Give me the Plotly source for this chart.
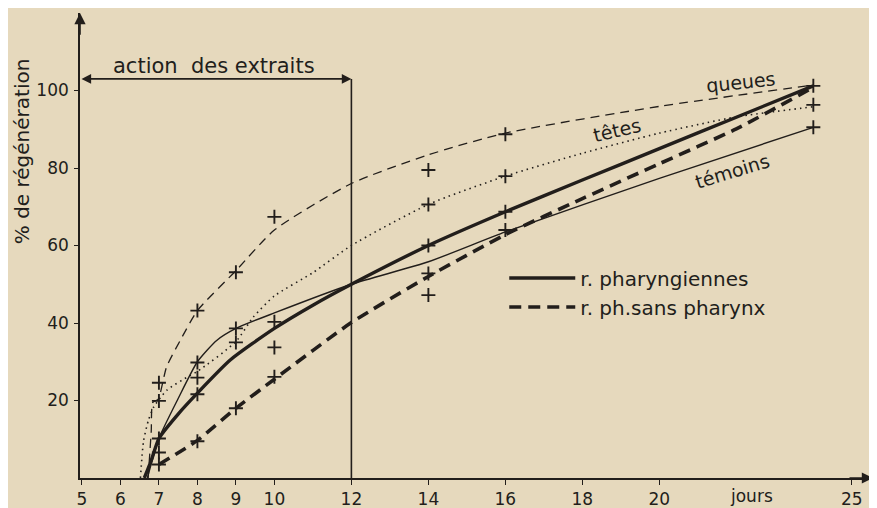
import plotly.graph_objects as go

# ---------------- data ----------------
queues_days = [6.72, 6.8, 6.84, 6.98, 7.2, 7.56, 8, 9, 10, 12, 14, 16, 20, 24]
queues_vals = [0, 12, 19.5, 20.3, 28.7, 35.6, 43.2, 53.5, 64, 76, 83.4, 89, 95.9, 101.4]

tetes_days = [6.52, 6.6, 6.73, 6.87, 7.21, 7.73, 8, 9, 9.45, 10, 11, 12, 14, 16, 18, 20, 22, 24]
tetes_vals = [0, 9.5, 15, 18.4, 22.7, 26, 27.5, 35.2, 41.5, 47, 53, 60, 70.6, 77.9, 83.8, 89, 93.2, 95.8]

temoins_days = [6.7, 7, 7.5, 8, 8.5, 9, 10, 12, 14, 16, 20, 24]
temoins_vals = [0, 10.2, 20.5, 30, 35.5, 38.6, 42.6, 50, 55.8, 63.5, 77.3, 90.5]

pharyng_days = [6.62, 6.8, 7, 7.5, 8, 8.86, 10, 11, 12, 14, 16, 18, 20, 22, 24]
pharyng_vals = [0, 4.5, 10.2, 16.5, 21.9, 30.5, 38.6, 44.6, 50, 60, 68.7, 76.9, 85.0, 93.1, 101.2]

sans_days = [7, 8, 9, 10, 12, 14, 16, 18, 20, 22, 24]
sans_vals = [3.5, 9.7, 18, 25.5, 40.1, 52, 62.8, 72.1, 81.1, 90.1, 100.8]

obs_days = [7, 7, 7, 7, 7, 8, 8, 8, 8, 8, 9, 9, 9, 9, 10, 10, 10, 10,
            14, 14, 14, 14, 14, 16, 16, 16, 16, 24, 24, 24]
obs_vals = [24.6, 19.9, 10.2, 6.6, 3.5, 43.2, 29.8, 25.9, 21.6, 9.5,
            53.1, 38.6, 35.0, 18.0, 67.4, 40.3, 33.7, 26.1,
            79.5, 70.6, 60.0, 52.8, 47.2, 88.7, 77.9, 68.7, 64.0,
            101.2, 96.3, 90.5]

x_ticks = [5, 6, 7, 8, 9, 10, 12, 14, 16, 18, 20, 25]
y_ticks = [20, 40, 60, 80, 100]
extract_end_day = 12

INK = "#221e1b"
BG = "#e6d9bd"
FONT = "DejaVu Sans"

fig = go.Figure()

def curve(x, y, name, width, dash, legend=False):
    fig.add_trace(go.Scatter(
        x=x, y=y, mode="lines", name=name, showlegend=legend,
        line=dict(color=INK, width=width, dash=dash, shape="spline", smoothing=0.6),
        hoverinfo="skip"))

curve(queues_days, queues_vals, "queues", 1.3, "9px,6px")
curve(tetes_days, tetes_vals, "têtes", 1.6, "1.5px,4px")
curve(temoins_days, temoins_vals, "témoins", 1.4, "solid")
curve(pharyng_days, pharyng_vals, "r. pharyngiennes", 3.4, "solid", legend=True)
curve(sans_days, sans_vals, "r. ph.sans pharynx", 3.6, "12px,7px", legend=True)

fig.add_trace(go.Scatter(
    x=obs_days, y=obs_vals, mode="markers", showlegend=False, name="obs",
    marker=dict(symbol="cross-thin", size=10, line=dict(color=INK, width=1.9))))

XR = [4.95, 25.55]
YR = [0, 120]

fig.update_layout(
    width=877, height=508,
    margin=dict(l=72, r=12, t=5, b=38),
    paper_bgcolor=BG, plot_bgcolor=BG,
    font=dict(family=FONT, color=INK, size=17),
    xaxis=dict(range=XR, tickvals=x_ticks, ticktext=[str(v) for v in x_ticks],
               showgrid=False, zeroline=False, showline=True, linecolor=INK, linewidth=1.6,
               ticks="outside", ticklen=5, tickwidth=1.3, tickcolor=INK, ticklabelstandoff=0,
               tickfont=dict(size=17, family=FONT, color=INK)),
    yaxis=dict(range=YR, tickvals=y_ticks, ticktext=[str(v) for v in y_ticks],
               showgrid=False, zeroline=False, showline=True, linecolor=INK, linewidth=1.6,
               ticks="outside", ticklen=4, tickwidth=1.3, tickcolor=INK, ticklabelstandoff=2,
               tickfont=dict(size=17, family=FONT, color=INK)),
    legend=dict(x=0.535, y=0.472, xanchor="left", yanchor="top",
                bgcolor="rgba(0,0,0,0)", font=dict(size=20, family=FONT, color=INK),
                itemwidth=66, tracegroupgap=2),
    showlegend=True,
)

# vertical limit of extract action
fig.add_shape(type="line", x0=extract_end_day, x1=extract_end_day, y0=0, y1=103,
              line=dict(color=INK, width=1.6))

ann = []
# axis arrowheads
ann.append(dict(x=XR[1], y=0, ax=24.9, ay=0, xref="x", yref="y", axref="x", ayref="y",
                showarrow=True, arrowhead=2, arrowsize=1.4, arrowwidth=1.6, arrowcolor=INK, text=""))
ann.append(dict(x=XR[0], y=YR[1], ax=XR[0], ay=114, xref="x", yref="y", axref="x", ayref="y",
                showarrow=True, arrowhead=2, arrowsize=1.4, arrowwidth=1.6, arrowcolor=INK, text=""))
# double arrow "action des extraits"
ann.append(dict(x=extract_end_day, y=103, ax=XR[0], ay=103, xref="x", yref="y", axref="x", ayref="y",
                showarrow=True, arrowhead=2, startarrowhead=2, arrowside="end+start",
                arrowsize=1.2, startarrowsize=1.2, arrowwidth=1.6, arrowcolor=INK, text=""))
ann.append(dict(x=8.44, y=106.2, xref="x", yref="y", text="action  des extraits", showarrow=False,
                font=dict(size=21, family=FONT, color=INK)))
# curve labels
ann.append(dict(x=22.1, y=102.2, xref="x", yref="y", text="queues", showarrow=False, textangle=-6,
                font=dict(size=19, family=FONT, color=INK)))
ann.append(dict(x=18.9, y=89.7, xref="x", yref="y", text="têtes", showarrow=False, textangle=-13,
                font=dict(size=19, family=FONT, color=INK)))
ann.append(dict(x=21.9, y=79.2, xref="x", yref="y", text="témoins", showarrow=False, textangle=-17,
                font=dict(size=19, family=FONT, color=INK)))
# x unit
ann.append(dict(x=22.39, y=0, xref="x", yref="paper", yanchor="top", yshift=-6, text="jours",
                showarrow=False, font=dict(size=17, family=FONT, color=INK)))
# y axis title
ann.append(dict(x=-0.073, y=0.703, xref="paper", yref="paper", xanchor="center", yanchor="middle",
                text="% de régénération", textangle=-90, showarrow=False,
                font=dict(size=20, family=FONT, color=INK)))

fig.update_layout(annotations=ann)

fig.write_html("out.html")
